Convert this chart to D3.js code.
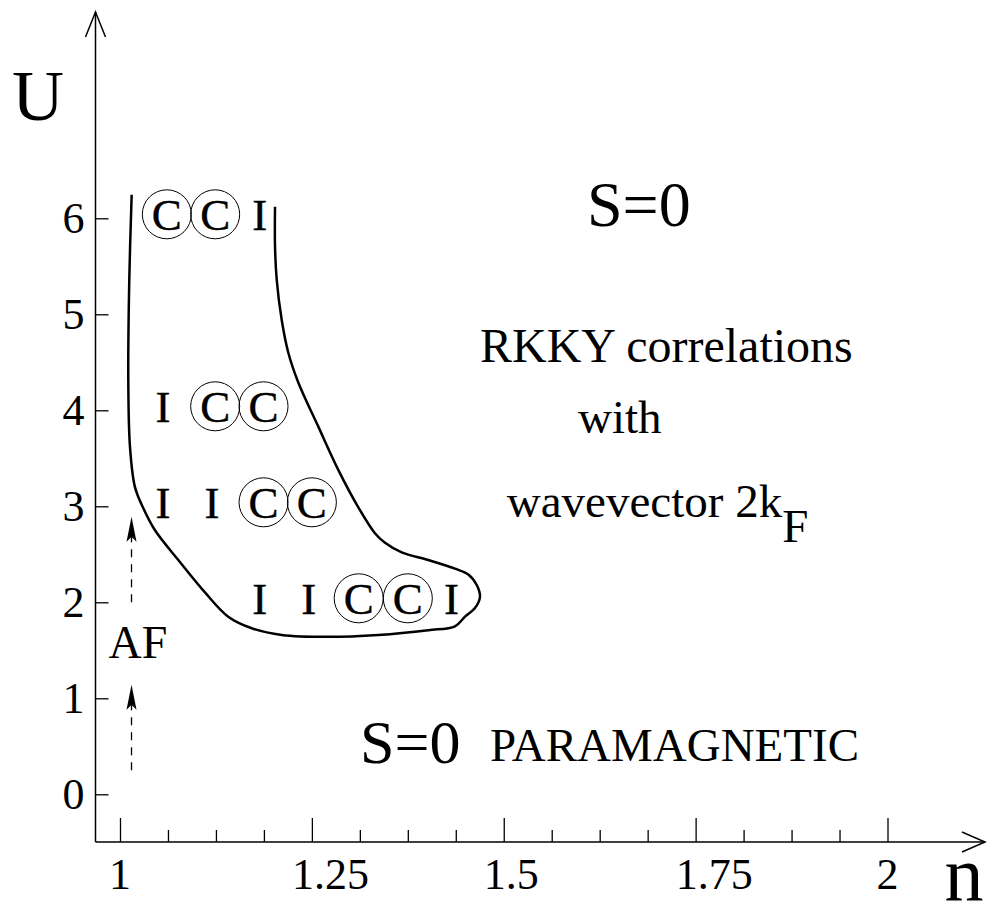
<!DOCTYPE html>
<html>
<head>
<meta charset="utf-8">
<script src="https://cdn.jsdelivr.net/npm/d3@7"></script>
<style>
  html, body { margin: 0; padding: 0; background: #fff; }
  svg { display: block; }
  text { font-family: "Liberation Serif", "Times New Roman", serif; fill: #000; }
</style>
</head>
<body>
<svg id="chart" width="991" height="919"></svg>
<script>
// ---- data ----
const xMajorTicks = [1, 1.25, 1.5, 1.75, 2];
const xTickLabels = ["1", "1.25", "1.5", "1.75", "2"];
const xMinorTicks = [1.0625, 1.125, 1.1875, 1.3125, 1.375, 1.4375, 1.5625, 1.625, 1.6875, 1.8125, 1.875, 1.9375];
const yTicks = [0, 1, 2, 3, 4, 5, 6];
const yTickLabels = ["0", "1", "2", "3", "4", "5", "6"];

// boundary of the region (n, U)
const boundaryN = [1.0152, 1.0121, 1.0108, 1.013, 1.0195, 1.0304, 1.0456, 1.076, 1.111, 1.141, 1.1716, 1.2107, 1.2714, 1.3365, 1.4017, 1.4365, 1.4495, 1.4625, 1.469, 1.4648, 1.4538, 1.4365, 1.4017, 1.367, 1.3453, 1.3322, 1.3105, 1.2844, 1.2584, 1.2323, 1.2193, 1.2107, 1.2042, 1.202, 1.202];
const boundaryU = [6.245, 5.36, 4.32, 3.62, 3.20, 2.98, 2.75, 2.44, 2.10, 1.85, 1.73, 1.66, 1.64, 1.66, 1.71, 1.75, 1.85, 1.94, 2.055, 2.18, 2.29, 2.35, 2.44, 2.52, 2.62, 2.72, 2.99, 3.38, 3.83, 4.29, 4.60, 4.94, 5.36, 5.70, 6.12];

// symbols inside the region
const symbolLabels = ["C", "C", "I", "I", "C", "C", "I", "I", "C", "C", "I", "I", "C", "C", "I"];
const symbolCircled = [true, true, false, false, true, true, false, false, true, true, false, false, true, true, false];
const symbolN = [1.061, 1.124, 1.182, 1.056, 1.124, 1.187, 1.056, 1.120, 1.187, 1.250, 1.182, 1.246, 1.311, 1.375, 1.432];
const symbolU = [6, 6, 6, 4, 4, 4, 3, 3, 3, 3, 2, 2, 2, 2, 2];

// dashed AF arrows (n, U from -> U to)
const afArrowN = [1.015, 1.015];
const afArrowFrom = [0.25, 2.0];
const afArrowTo = [1.14, 2.89];

// ---- drawing ----
const svg = d3.select("#chart");
const x = d3.scaleLinear().domain([1, 2]).range([120, 887.5]);
const y = d3.scaleLinear().domain([0, 6]).range([794.3, 218.3]);
const x0 = 95.5, y0 = 842;

// axis lines with open arrowheads
const axisG = svg.append("g").attr("stroke", "#000").attr("stroke-width", 1.5).attr("fill", "none");
axisG.append("line").attr("x1", x0).attr("y1", y0).attr("x2", 985).attr("y2", y0);
axisG.append("path").attr("d", `M962,${y0 - 10} L985,${y0} L962,${y0 + 10}`);
axisG.append("line").attr("x1", x0).attr("y1", y0).attr("x2", x0).attr("y2", 12);
axisG.append("path").attr("d", `M${x0 - 10},37 L${x0},12 L${x0 + 10},37`);

// x axis ticks (pointing up)
const xMajor = svg.append("g").attr("transform", `translate(0,${y0})`)
  .call(d3.axisBottom(x).tickValues(xMajorTicks).tickSize(-24).tickFormat(""));
const xMinor = svg.append("g").attr("transform", `translate(0,${y0})`)
  .call(d3.axisBottom(x).tickValues(xMinorTicks).tickSize(-12).tickFormat(""));
[xMajor, xMinor].forEach(g => {
  g.select(".domain").remove();
  g.selectAll(".tick line").attr("stroke", "#000").attr("stroke-width", 1.3);
});
svg.append("g").selectAll("text").data(xMajorTicks).join("text")
  .attr("x", (d, i) => xTickLabels[i].length > 1 ? x(d) - 20 : x(d))
  .attr("y", 889)
  .attr("text-anchor", (d, i) => xTickLabels[i].length > 1 ? "start" : "middle")
  .attr("font-size", 44)
  .text((d, i) => xTickLabels[i]);

// y axis ticks (pointing right), labels on left
const yAx = svg.append("g").attr("transform", `translate(${x0},0)`)
  .call(d3.axisLeft(y).tickValues(yTicks).tickSize(-13).tickPadding(11)
    .tickFormat((d, i) => yTickLabels[i]));
yAx.select(".domain").remove();
yAx.selectAll(".tick line").attr("stroke", "#000").attr("stroke-width", 1.3);
yAx.selectAll(".tick text").attr("font-size", 44).attr("font-family", "Liberation Serif").attr("fill", "#000");

// axis titles
svg.append("text").attr("x", 38).attr("y", 120).attr("text-anchor", "middle").attr("font-size", 72).text("U");
svg.append("text").attr("x", 964).attr("y", 901).attr("text-anchor", "middle").attr("font-size", 78).text("n");

// boundary curve
const boundary = boundaryN.map((n, i) => [n, boundaryU[i]]);
svg.append("path")
  .datum(boundary)
  .attr("d", d3.line().x(d => x(d[0])).y(d => y(d[1])).curve(d3.curveCatmullRom.alpha(0.5)))
  .attr("fill", "none").attr("stroke", "#000").attr("stroke-width", 2.5);

// symbols
const symG = svg.append("g");
symbolLabels.forEach((lab, i) => {
  const cx = x(symbolN[i]), cy = y(symbolU[i]);
  if (symbolCircled[i]) {
    symG.append("circle").attr("cx", cx).attr("cy", cy - 4).attr("r", 24.5)
      .attr("fill", "none").attr("stroke", "#000").attr("stroke-width", 1);
  }
  symG.append("text").attr("x", cx).attr("y", cy + 12).attr("text-anchor", "middle")
    .attr("font-size", 45).attr("stroke", "#000").attr("stroke-width", 0.4).text(lab);
});

// dashed AF arrows
afArrowN.forEach((n, i) => {
  const ax = x(n), yFrom = y(afArrowFrom[i]), yTo = y(afArrowTo[i]);
  svg.append("line").attr("x1", ax).attr("x2", ax).attr("y1", yFrom).attr("y2", yTo + 20)
    .attr("stroke", "#000").attr("stroke-width", 1.3).attr("stroke-dasharray", "8,7");
  svg.append("path").attr("d", `M${ax},${yTo} L${ax - 5},${yTo + 25} L${ax},${yTo + 20} L${ax + 5},${yTo + 25} Z`)
    .attr("fill", "#000");
});

// annotations
svg.append("text").attr("x", x(0.985)).attr("y", y(1.42)).attr("font-size", 46).text("AF");
svg.append("text").attr("x", x(1.6085)).attr("y", y(5.92)).attr("font-size", 64).text("S=0");
svg.append("text").attr("x", x(1.469)).attr("y", y(4.506)).attr("font-size", 48).text("RKKY correlations");
svg.append("text").attr("x", x(1.5967)).attr("y", y(3.76)).attr("font-size", 47).text("with");
const wv = svg.append("text").attr("x", x(1.504)).attr("y", y(2.89)).attr("font-size", 47);
wv.append("tspan").text("wavevector 2k");
wv.append("tspan").attr("dy", 25).text("F");
svg.append("text").attr("x", x(1.3127)).attr("y", y(0.326)).attr("font-size", 62).text("S=0");
svg.append("text").attr("x", x(1.482)).attr("y", y(0.35)).attr("font-size", 47).text("PARAMAGNETIC");
</script>
</body>
</html>
